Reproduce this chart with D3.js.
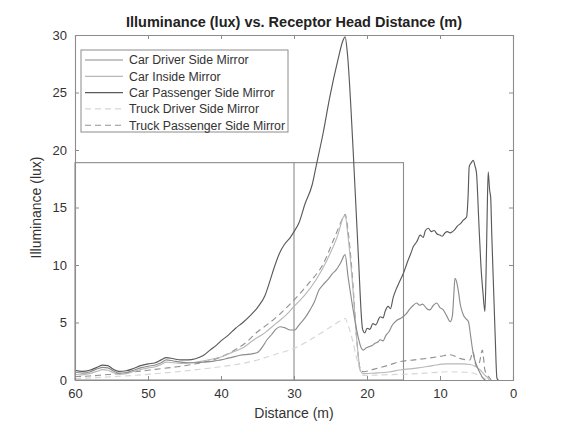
<!DOCTYPE html>
<html><head><meta charset="utf-8">
<script src="https://cdn.jsdelivr.net/npm/d3@7"></script>
<style>body{margin:0;background:#fff}svg{display:block}text{font-family:"Liberation Sans",Arial,sans-serif}</style>
</head><body><svg id="c" width="567" height="428"></svg>
<script>
const xTicks=[60,50,40,30,20,10,0];
const yTicks=[0,5,10,15,20,25,30];
const seriesNames=["Car Driver Side Mirror","Car Inside Mirror","Car Passenger Side Mirror","Truck Driver Side Mirror","Truck Passenger Side Mirror"];
const carDriver=[[60,0.7],[59,0.6],[58,0.7],[57,0.95],[56.2,1.1],[55.5,1.05],[54.8,0.8],[54,0.6],[53,0.65],[52,0.85],[51,1.05],[50,1.2],[49,1.3],[48.2,1.5],[47.5,1.75],[46.5,1.65],[45.5,1.55],[44.5,1.5],[43.5,1.5],[42.5,1.55],[41.5,1.6],[40.5,1.7],[40,1.75],[39,1.9],[38,2.05],[37.4,2.15],[36,2.25],[35,2.4],[34.3,2.9],[33.7,3.5],[33.0,4.0],[32.5,4.4],[31.9,4.63],[31.3,4.55],[30.5,4.35],[29.9,4.35],[29.3,4.8],[28.5,5.4],[27.8,6.1],[27.2,6.8],[26.6,7.8],[26.0,8.3],[25.4,8.7],[24.8,9.2],[24.2,9.6],[23.6,10.2],[23.0,10.9],[22.6,9],[22.0,6.5],[21.4,4.3],[20.8,2.8],[20.5,2.6],[20.1,2.8],[19.7,2.9],[19.3,3.0],[18.9,3.2],[18.5,3.3],[18.2,3.5],[17.8,3.4],[17.4,3.9],[17.0,4.2],[16.5,4.8],[15.9,5.2],[15.3,5.4],[14.7,5.7],[14.1,6.2],[13.65,6.5],[13.2,6.7],[12.8,6.5],[12.4,6.6],[11.8,6.2],[11.4,6.1],[10.9,6.5],[10.45,6.7],[10.0,6.3],[9.55,6.1],[9.1,5.6],[8.6,5.07],[8.3,5.6],[8.1,7.5],[7.95,8.85],[7.75,8.6],[7.5,7.8],[7.2,6.5],[6.8,5.65],[6.4,5.3],[6.1,5.07],[5.8,3.8],[5.45,2.3],[5.0,1.3],[4.5,0.58],[4.1,0.15],[3.8,0]];
const carInside=[[60,0.5],[59,0.45],[58,0.55],[57,0.75],[56.2,0.9],[55.5,0.85],[54.8,0.65],[54,0.5],[53,0.55],[52,0.75],[51,0.9],[50,1.05],[49,1.15],[48.2,1.35],[47.5,1.55],[46.5,1.5],[45.5,1.45],[44,1.5],[42.5,1.65],[41,1.85],[40,2.0],[38.5,2.4],[37,2.8],[35.6,3.45],[34,4.1],[32.5,4.9],[31,5.7],[30,6.4],[28.5,7.4],[27,8.7],[25.5,10.4],[24,12.6],[23.2,14.2],[23.0,14.3],[22.6,12.5],[22.0,8.5],[21.4,3.5],[20.9,0.8],[20.5,0.55],[19,0.6],[17,0.7],[15.5,0.87],[13,1.05],[11,1.25],[9.1,1.4],[7,1.4],[5.9,1.35],[5.2,1.2],[4.5,0.87],[3.9,0.45],[3.4,0.15],[3.2,0]];
const carPassenger=[[60,0.85],[59,0.75],[58,0.85],[57,1.1],[56.2,1.3],[55.5,1.25],[54.8,0.95],[54,0.75],[53,0.8],[52,1.0],[51,1.25],[50,1.4],[49,1.5],[48.2,1.75],[47.5,1.95],[46.5,1.85],[45.5,1.75],[44.5,1.75],[43.5,1.85],[42.5,2.1],[41.5,2.6],[40.5,3.1],[40,3.4],[39,3.9],[38,4.5],[37,5.0],[36,5.6],[35,6.3],[34,7.3],[33.3,8.6],[32.7,9.8],[32,11.0],[31.3,11.8],[30.5,12.4],[30,12.9],[29.3,13.7],[28.5,15.3],[27.5,17.0],[26.9,18.8],[26,21.5],[25.1,24.6],[24,27.8],[23.3,29.5],[23.0,29.85],[22.7,28.5],[21.9,20],[21.2,11],[20.6,4.4],[20.3,4.1],[20.0,4.5],[19.6,4.4],[19.2,4.9],[18.8,4.8],[18.4,5.3],[18.2,5.5],[17.8,5.4],[17.5,6.0],[17.1,6.4],[16.8,6.2],[16.4,7.2],[16.0,7.9],[15.5,8.6],[15.0,9.3],[14.5,10.2],[14.0,11.0],[13.65,11.6],[13.2,12.0],[12.7,12.6],[12.3,12.4],[12.0,13.0],[11.6,13.2],[11.2,12.9],[10.8,13.0],[10.4,12.7],[10.0,12.6],[9.7,12.5],[9.3,12.8],[9.0,12.9],[8.6,12.8],[8.3,12.9],[7.95,13.1],[7.6,13.4],[7.2,13.6],[6.8,13.9],[6.35,14.2],[6.15,16],[6.0,18.55],[5.7,18.9],[5.45,19.1],[5.2,18.6],[5.0,18.0],[4.7,14],[4.4,10],[4.1,7.5],[3.85,5.95],[3.7,9],[3.55,14],[3.4,18.1],[3.2,16.5],[3.06,15.9],[2.9,12.5],[2.7,8.7],[2.45,4],[2.2,0.15],[2.0,0]];
const truckDriver=[[60,0.12],[56,0.25],[52,0.4],[48,0.6],[44,0.85],[40,1.16],[37,1.45],[35,1.74],[33,2.15],[30,2.75],[27.5,3.6],[25,4.6],[23.2,5.3],[23.0,5.35],[22.6,4.8],[22,3.5],[21.3,1.6],[20.8,0.6],[20.5,0.4],[18,0.45],[15,0.5],[12,0.6],[10,0.68],[8.6,0.72],[7,0.68],[5.9,0.65],[5,0.5],[4.1,0.2],[3.5,0]];
const truckPassenger=[[60,0.3],[58,0.35],[56,0.45],[54,0.55],[52,0.7],[50,0.85],[48,1.0],[46,1.15],[44,1.35],[42,1.6],[40,2.0],[38,2.65],[36.5,3.3],[35,4.2],[33.5,4.9],[32,5.7],[30,6.95],[28,8.4],[26,10.1],[24.5,12.3],[23.2,14.2],[23.0,14.4],[22.6,13],[22.0,9],[21.4,3.5],[20.9,0.9],[20.5,0.72],[19,0.95],[17,1.3],[15.5,1.6],[13.5,1.75],[11.8,1.88],[10,2.05],[8.6,2.2],[7.3,1.88],[5.9,1.74],[5.5,2.46],[5.0,1.16],[4.6,1.5],[4.2,2.6],[3.85,0.87],[3.5,0.4],[3.15,0.15],[3.0,0]];
const boxX=[60,15];
const boxTop=18.9;
const dividerX=30;

const series=[
 {name:seriesNames[0],data:carDriver,color:"#8c8c8c",dash:null},
 {name:seriesNames[1],data:carInside,color:"#b8b8b8",dash:null},
 {name:seriesNames[2],data:carPassenger,color:"#5a5a5a",dash:null},
 {name:seriesNames[3],data:truckDriver,color:"#d6d6d6",dash:"6,4"},
 {name:seriesNames[4],data:truckPassenger,color:"#929292",dash:"6,4"}
];
const L=75,R=513,T=35,B=380;
const svg=d3.select("#c");
const x=d3.scaleLinear().domain([60,0]).range([L,R]);
const y=d3.scaleLinear().domain([0,30]).range([B,T]);
const axc="#8c8c8c", txc="#333";

const gb=svg.append("g").attr("fill","none").attr("stroke","#8c8c8c").attr("stroke-width",1.1);
gb.append("rect").attr("x",x(boxX[0])).attr("y",y(boxTop)).attr("width",x(boxX[1])-x(boxX[0])).attr("height",y(0)-y(boxTop));
gb.append("line").attr("x1",x(dividerX)).attr("x2",x(dividerX)).attr("y1",y(0)).attr("y2",y(boxTop));

const line=d3.line().x(d=>x(d[0])).y(d=>y(d[1])).curve(d3.curveMonotoneX);
const order=[3,4,1,0,2];
order.forEach(i=>{const s=series[i];
 svg.append("path").datum(s.data).attr("d",line).attr("fill","none").attr("stroke",s.color).attr("stroke-width",1.15).attr("stroke-dasharray",s.dash);
});

const ax=svg.append("g").attr("transform",`translate(0,${B})`).call(d3.axisBottom(x).tickValues(xTicks).tickSize(-4).tickPadding(9).tickFormat(d3.format("d")));
const axT=svg.append("g").attr("transform",`translate(0,${T})`).call(d3.axisTop(x).tickValues(xTicks).tickSize(-4).tickFormat(""));
const ay=svg.append("g").attr("transform",`translate(${L},0)`).call(d3.axisLeft(y).tickValues(yTicks).tickSize(-4).tickPadding(8));
const ayR=svg.append("g").attr("transform",`translate(${R},0)`).call(d3.axisRight(y).tickValues(yTicks).tickSize(-4).tickFormat(""));
[ax,axT,ay,ayR].forEach(g=>{g.selectAll("path").attr("stroke",axc).attr("stroke-width",1.1);g.selectAll("line").attr("stroke",axc);g.selectAll("text").attr("fill",txc).style("font-size","13px");});
ax.selectAll("text").attr("dy","0.71em");

svg.append("text").attr("x",(L+R)/2).attr("y",27).attr("text-anchor","middle").attr("font-weight","bold").attr("font-size","14.5px").attr("fill","#222").text("Illuminance (lux) vs. Receptor Head Distance (m)");
svg.append("text").attr("x",(L+R)/2).attr("y",418).attr("text-anchor","middle").attr("font-size","14px").attr("fill",txc).text("Distance (m)");
svg.append("text").attr("transform",`translate(41,${(T+B)/2}) rotate(-90)`).attr("text-anchor","middle").attr("font-size","14px").attr("fill",txc).text("Illuminance (lux)");

const lg=svg.append("g");
lg.append("rect").attr("x",81).attr("y",50).attr("width",207).attr("height",82).attr("fill","#fff").attr("stroke","#8c8c8c").attr("stroke-width",1);
series.forEach((s,i)=>{const yy=60+i*16.3;
 lg.append("line").attr("x1",85).attr("x2",123).attr("y1",yy).attr("y2",yy).attr("stroke",s.color).attr("stroke-width",1.15).attr("stroke-dasharray",s.dash);
 lg.append("text").attr("x",129).attr("y",yy).attr("dy","0.35em").attr("font-size","12.3px").attr("fill",txc).text(s.name);
});
</script></body></html>
